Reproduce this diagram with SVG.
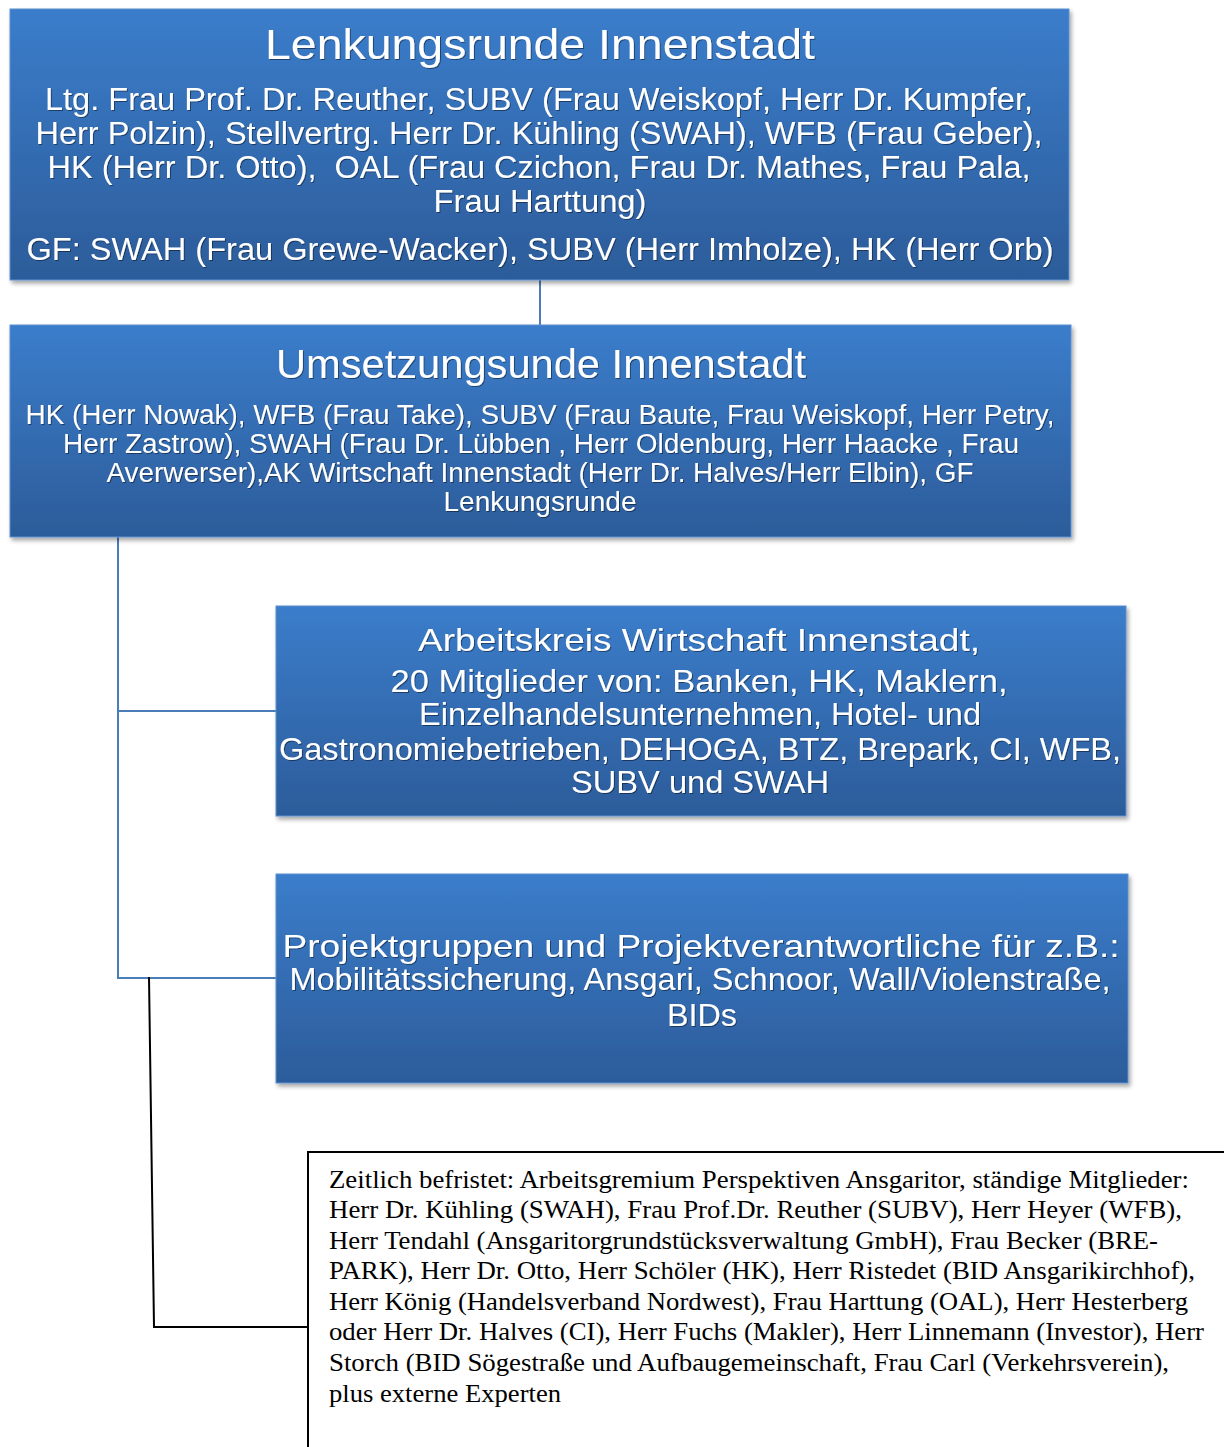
<svg xmlns="http://www.w3.org/2000/svg" width="1224" height="1447" viewBox="0 0 1224 1447">
<defs>
<linearGradient id="g" x1="0" y1="0" x2="0" y2="1">
<stop offset="0" stop-color="#3b7dcb"/>
<stop offset="1" stop-color="#2c5c9a"/>
</linearGradient>
<filter id="sh" x="-5%" y="-5%" width="110%" height="115%">
<feDropShadow dx="2" dy="3" stdDeviation="2" flood-color="#000" flood-opacity="0.35"/>
</filter>
<filter id="tsh" x="-5%" y="-20%" width="110%" height="150%">
<feDropShadow dx="1" dy="1" stdDeviation="0.6" flood-color="#000" flood-opacity="0.45"/>
</filter>
</defs>
<style>
.box{fill:url(#g);stroke:#5d8fd0;stroke-width:1;filter:url(#sh)}
.t{font-family:"Liberation Sans",Arial,sans-serif;fill:#fff;text-anchor:middle;filter:url(#tsh)}
.conn{fill:none;stroke:#4a7ebb;stroke-width:2}
.blk{fill:none;stroke:#000;stroke-width:2}
.n{font-family:"Liberation Serif","Times New Roman",serif;font-size:25.3px;fill:#000}
</style>
<g id="connectors">
<line class="conn" x1="540" y1="280" x2="540" y2="325"/>
<polyline class="conn" points="118,537 118,978 276,978"/>
<line class="conn" x1="118" y1="711" x2="276" y2="711"/>
<polyline class="blk" points="149,977 154,1327 309,1327"/>
</g>
<g id="lenkungsrunde">
<rect class="box" x="10" y="9" width="1059" height="271"/>
<text class="t" x="540" y="59" font-size="42" textLength="550" lengthAdjust="spacingAndGlyphs">Lenkungsrunde Innenstadt</text>
<text class="t" x="539" y="110" font-size="31" textLength="988" lengthAdjust="spacingAndGlyphs">Ltg. Frau Prof. Dr. Reuther, SUBV (Frau Weiskopf, Herr Dr. Kumpfer,</text>
<text class="t" x="539" y="144" font-size="31" textLength="1007" lengthAdjust="spacingAndGlyphs">Herr Polzin), Stellvertrg. Herr Dr. Kühling (SWAH), WFB (Frau Geber),</text>
<text class="t" x="539" y="178" font-size="31" textLength="983" lengthAdjust="spacingAndGlyphs" xml:space="preserve">HK (Herr Dr. Otto),  OAL (Frau Czichon, Frau Dr. Mathes, Frau Pala,</text>
<text class="t" x="540" y="212" font-size="31" textLength="213" lengthAdjust="spacingAndGlyphs">Frau Harttung)</text>
<text class="t" x="540" y="260" font-size="31" textLength="1027" lengthAdjust="spacingAndGlyphs">GF: SWAH (Frau Grewe-Wacker), SUBV (Herr Imholze), HK (Herr Orb)</text>
</g>
<g id="umsetzungsrunde">
<rect class="box" x="10" y="325" width="1061" height="212"/>
<text class="t" x="541" y="378" font-size="40" textLength="530" lengthAdjust="spacingAndGlyphs">Umsetzungsunde Innenstadt</text>
<text class="t" x="540" y="424" font-size="27" textLength="1029" lengthAdjust="spacingAndGlyphs">HK (Herr Nowak), WFB (Frau Take), SUBV (Frau Baute, Frau Weiskopf, Herr Petry,</text>
<text class="t" x="541" y="453" font-size="27" textLength="956" lengthAdjust="spacingAndGlyphs">Herr Zastrow), SWAH (Frau Dr. Lübben , Herr Oldenburg, Herr Haacke , Frau</text>
<text class="t" x="540" y="482" font-size="27" textLength="867" lengthAdjust="spacingAndGlyphs">Averwerser),AK Wirtschaft Innenstadt (Herr Dr. Halves/Herr Elbin), GF</text>
<text class="t" x="540" y="511" font-size="27" textLength="193" lengthAdjust="spacingAndGlyphs">Lenkungsrunde</text>
</g>
<g id="arbeitskreis">
<rect class="box" x="276" y="606" width="850" height="210"/>
<text class="t" x="699" y="651" font-size="32" textLength="562" lengthAdjust="spacingAndGlyphs">Arbeitskreis Wirtschaft Innenstadt,</text>
<text class="t" x="699" y="692" font-size="32" textLength="617" lengthAdjust="spacingAndGlyphs">20 Mitglieder von: Banken, HK, Maklern,</text>
<text class="t" x="700" y="725" font-size="32" textLength="562" lengthAdjust="spacingAndGlyphs">Einzelhandelsunternehmen, Hotel- und</text>
<text class="t" x="700" y="760" font-size="32" textLength="842" lengthAdjust="spacingAndGlyphs">Gastronomiebetrieben, DEHOGA, BTZ, Brepark, CI, WFB,</text>
<text class="t" x="700" y="793" font-size="32" textLength="258" lengthAdjust="spacingAndGlyphs">SUBV und SWAH</text>
</g>
<g id="projektgruppen">
<rect class="box" x="276" y="874" width="852" height="209"/>
<text class="t" x="701" y="957" font-size="32" textLength="837" lengthAdjust="spacingAndGlyphs">Projektgruppen und Projektverantwortliche für z.B.:</text>
<text class="t" x="700" y="990" font-size="32" textLength="821" lengthAdjust="spacingAndGlyphs">Mobilitätssicherung, Ansgari, Schnoor, Wall/Violenstraße,</text>
<text class="t" x="702" y="1026" font-size="32" textLength="70" lengthAdjust="spacingAndGlyphs">BIDs</text>
</g>
<g id="arbeitsgremium">
<rect x="308" y="1152" width="940" height="320" fill="#fff" stroke="#000" stroke-width="2"/>
<text class="n" x="329" y="1188" textLength="860" lengthAdjust="spacingAndGlyphs">Zeitlich befristet: Arbeitsgremium Perspektiven Ansgaritor, ständige Mitglieder:</text>
<text class="n" x="329" y="1218" textLength="853" lengthAdjust="spacingAndGlyphs">Herr Dr. Kühling (SWAH), Frau Prof.Dr. Reuther (SUBV), Herr Heyer (WFB),</text>
<text class="n" x="329" y="1249" textLength="829" lengthAdjust="spacingAndGlyphs">Herr Tendahl (Ansgaritorgrundstücksverwaltung GmbH), Frau Becker (BRE-</text>
<text class="n" x="329" y="1279" textLength="866" lengthAdjust="spacingAndGlyphs">PARK), Herr Dr. Otto, Herr Schöler (HK), Herr Ristedet (BID Ansgarikirchhof),</text>
<text class="n" x="329" y="1310" textLength="859" lengthAdjust="spacingAndGlyphs">Herr König (Handelsverband Nordwest), Frau Harttung (OAL), Herr Hesterberg</text>
<text class="n" x="329" y="1340" textLength="875" lengthAdjust="spacingAndGlyphs">oder Herr Dr. Halves (CI), Herr Fuchs (Makler), Herr Linnemann (Investor), Herr</text>
<text class="n" x="329" y="1371" textLength="840" lengthAdjust="spacingAndGlyphs">Storch (BID Sögestraße und Aufbaugemeinschaft, Frau Carl (Verkehrsverein),</text>
<text class="n" x="329" y="1402" textLength="232" lengthAdjust="spacingAndGlyphs">plus externe Experten</text>
</g>
</svg>
